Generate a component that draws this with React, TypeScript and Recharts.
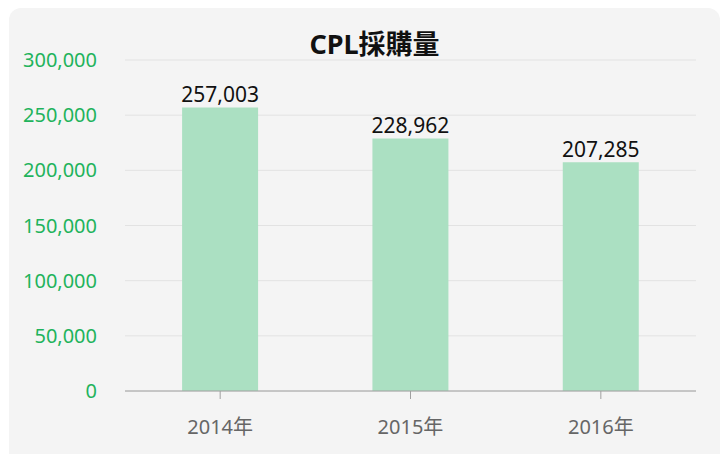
import { Bar, BarChart, CartesianGrid, LabelList, XAxis, YAxis } from "recharts";

const years = ["2014年", "2015年", "2016年"];
const purchases = [257003, 228962, 207285];
const yTicks = [0, 50000, 100000, 150000, 200000, 250000, 300000];

const data = years.map((year, i) => ({ year, value: purchases[i] }));

const FONT = "'Noto Sans', 'Noto Sans CJK TC', sans-serif";
const fmt = (v: number) => v.toLocaleString("en-US");

export default function App() {
  return (
    <div style={{ position: "fixed", left: 0, top: 0, width: 724, height: 454, overflow: "hidden", background: "#fff", fontFamily: FONT }}>
      <div
        style={{
          position: "absolute",
          left: 9,
          top: 8,
          width: 711,
          height: 470,
          background: "#f4f4f4",
          borderRadius: 12,
        }}
      />
      <div
        style={{
          position: "absolute",
          left: 19,
          width: 711,
          top: 26,
          textAlign: "center",
          fontSize: 27,
          fontWeight: 700,
          color: "#111",
          lineHeight: "36px",
        }}
      >
        CPL採購量
      </div>
      <div style={{ position: "absolute", left: 0, top: 0 }}>
        <BarChart
          width={724}
          height={454}
          data={data}
          margin={{ top: 60, right: 28, bottom: 0, left: 0 }}
          barCategoryGap="30%"
        >
          <CartesianGrid vertical={false} stroke="#e2e2e2" />
          <XAxis
            dataKey="year"
            height={63}
            stroke="#a0a0a0"
            tickSize={8}
            tickMargin={21}
            tick={{ fill: "#666", fontSize: 20, fontFamily: FONT }}
            interval={0}
          />
          <YAxis
            width={125}
            domain={[0, 300000]}
            ticks={yTicks}
            axisLine={false}
            tickLine={false}
            tickSize={0}
            tickMargin={28}
            tickFormatter={fmt}
            tick={{ fill: "#1fb35c", fontSize: 20, fontFamily: FONT }}
          />
          <Bar dataKey="value" fill="#abe0c2" isAnimationActive={false}>
            <LabelList
              dataKey="value"
              position="top"
              offset={5}
              formatter={(v: any) => fmt(Number(v))}
              style={{ fill: "#111", fontSize: 21, fontFamily: FONT }}
            />
          </Bar>
        </BarChart>
      </div>
    </div>
  );
}
